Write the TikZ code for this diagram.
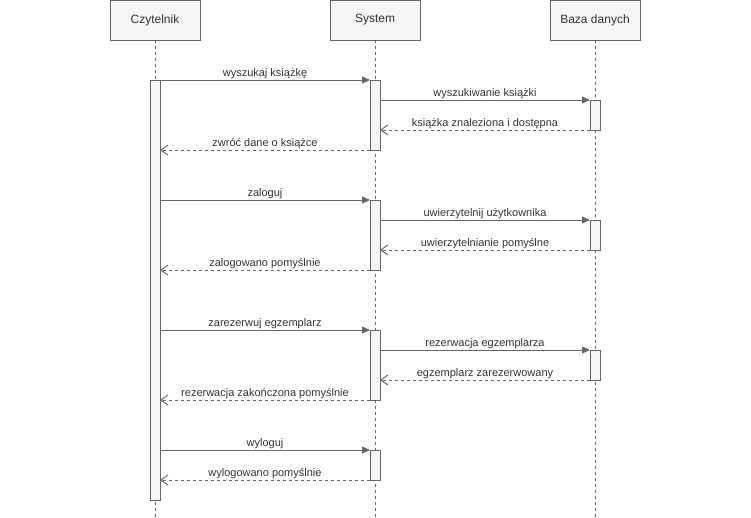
\documentclass[tikz,border=0pt]{standalone}
\usepackage{fontspec}
\setmainfont{Liberation Sans}
\usetikzlibrary{arrows.meta}
\definecolor{boxfill}{HTML}{F5F5F5}
\definecolor{linegray}{HTML}{666666}
\definecolor{txt}{HTML}{333333}
\begin{document}
\begin{tikzpicture}[x=1pt,y=-1pt,
  header/.style={draw=linegray,fill=boxfill,line width=1pt,minimum width=90pt,minimum height=40pt,inner sep=0pt,outer sep=0pt,anchor=north,text=txt,font=\fontsize{12}{14}\selectfont},
  lifeline/.style={draw=linegray,line width=1pt,dash pattern=on 3pt off 3pt},
  bar/.style={draw=linegray,fill=boxfill,line width=1pt,minimum width=10pt,inner sep=0pt,outer sep=0pt,anchor=north},
  msg/.style={draw=linegray,line width=1pt,-{Triangle[length=8pt,width=7pt]}},
  ret/.style={draw=linegray,line width=1pt,dash pattern=on 3pt off 3pt,-{Straight Barb[length=7pt,width=10pt,line width=1pt]}},
  lbl/.style={text=txt,font=\fontsize{11}{13}\selectfont,anchor=base,inner sep=0pt,yshift=4pt}
]
\useasboundingbox (0,0) rectangle (751,517);
% headers
\node[header] (hc) at (155,0) {Czytelnik};
\node[header] (hs) at (375,0) {System};
\node[header] (hb) at (595,0) {Baza danych};
\coordinate (ec) at (155,517);
\coordinate (es) at (375,517);
\coordinate (eb) at (595,517);
\draw[lifeline] (hc.south) -- (ec);
\draw[lifeline] (hs.south) -- (es);
\draw[lifeline] (hb.south) -- (eb);
% activation bars
\node[bar,minimum height=420pt] (cb) at (155,80) {};
\node[bar,minimum height=70pt] (s1) at (375,80) {};
\node[bar,minimum height=70pt] (s2) at (375,200) {};
\node[bar,minimum height=70pt] (s3) at (375,330) {};
\node[bar,minimum height=30pt] (s4) at (375,450) {};
\node[bar,minimum height=30pt] (b1) at (595,100) {};
\node[bar,minimum height=30pt] (b2) at (595,220) {};
\node[bar,minimum height=30pt] (b3) at (595,350) {};
% block 1
\draw[msg] (cb.east |- s1.north) -- node[lbl] {wyszukaj książkę} (s1.north west);
\draw[msg] (s1.east |- b1.north) -- node[lbl] {wyszukiwanie książki} (b1.north west);
\draw[ret] (b1.south west) -- node[lbl] {książka znaleziona i dostępna} (s1.east |- b1.south);
\draw[ret] (s1.south west) -- node[lbl] {zwróć dane o książce} (cb.east |- s1.south);
% block 2
\draw[msg] (cb.east |- s2.north) -- node[lbl] {zaloguj} (s2.north west);
\draw[msg] (s2.east |- b2.north) -- node[lbl] {uwierzytelnij użytkownika} (b2.north west);
\draw[ret] (b2.south west) -- node[lbl] {uwierzytelnianie pomyślne} (s2.east |- b2.south);
\draw[ret] (s2.south west) -- node[lbl] {zalogowano pomyślnie} (cb.east |- s2.south);
% block 3
\draw[msg] (cb.east |- s3.north) -- node[lbl] {zarezerwuj egzemplarz} (s3.north west);
\draw[msg] (s3.east |- b3.north) -- node[lbl] {rezerwacja egzemplarza} (b3.north west);
\draw[ret] (b3.south west) -- node[lbl] {egzemplarz zarezerwowany} (s3.east |- b3.south);
\draw[ret] (s3.south west) -- node[lbl] {rezerwacja zakończona pomyślnie} (cb.east |- s3.south);
% block 4
\draw[msg] (cb.east |- s4.north) -- node[lbl] {wyloguj} (s4.north west);
\draw[ret] (s4.south west) -- node[lbl] {wylogowano pomyślnie} (cb.east |- s4.south);
\end{tikzpicture}
\end{document}
